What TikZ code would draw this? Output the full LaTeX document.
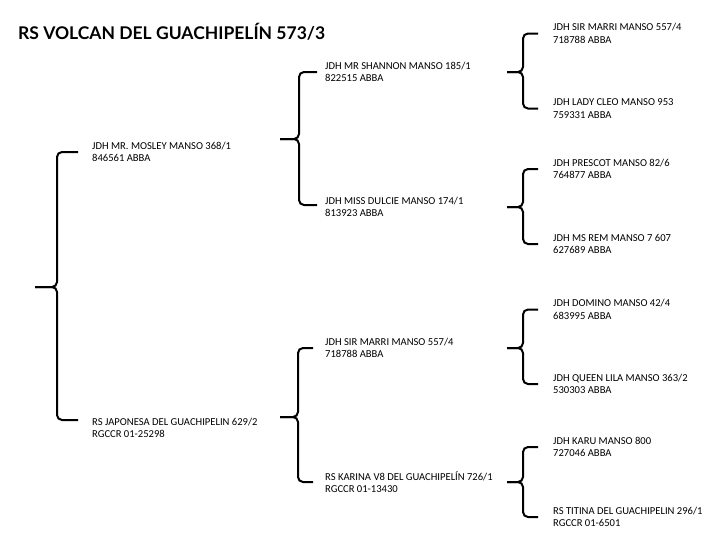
\documentclass[tikz,border=0pt]{standalone}
\usepackage{fontspec}
\setmainfont{Carlito}
\newfontfamily\titulofont{Lato}
\usepackage{tikz}
\usetikzlibrary{positioning}

\tikzset{
  caballo/.style={anchor=west, inner sep=0pt, align=left, font=\fontsize{10.6}{12.5}\selectfont},
  llave/.style={line width=2pt, rounded corners=5pt}
}

\begin{document}
\begin{tikzpicture}[x=1pt, y=-1pt]
    \useasboundingbox (0,0) rectangle (720,554);
    \fill[white] (0,0) rectangle (720,554);
    % Titulo
    \node[anchor=base west, inner sep=0pt, font=\titulofont\bfseries\fontsize{17.5}{20}\selectfont] (titulo) at (18,39.5) {RS VOLCAN DEL GUACHIPELÍN 573/3};
    % Padres
    \node[caballo] (p) at (92,152) {JDH MR. MOSLEY MANSO 368/1\\846561 ABBA};
    \node[caballo] (m) at (92,428) {RS JAPONESA DEL GUACHIPELIN 629/2\\RGCCR 01-25298};
    % Abuelos
    \node[caballo] (pp) at (325,72) {JDH MR SHANNON MANSO 185/1\\822515 ABBA};
    \node[caballo] (pm) at (325,207) {JDH MISS DULCIE MANSO 174/1\\813923 ABBA};
    \node[caballo] (mp) at (325,348) {JDH SIR MARRI MANSO 557/4\\718788 ABBA};
    \node[caballo] (mm) at (325,482) {RS KARINA V8 DEL GUACHIPELÍN 726/1\\RGCCR 01-13430};
    % Bisabuelos
    \node[caballo] (ppp) at (553,33.5) {JDH SIR MARRI MANSO 557/4\\718788 ABBA};
    \node[caballo] (ppm) at (553,108.5) {JDH LADY CLEO MANSO 953\\759331 ABBA};
    \node[caballo] (pmp) at (553,169) {JDH PRESCOT MANSO 82/6\\764877 ABBA};
    \node[caballo] (pmm) at (553,244) {JDH MS REM MANSO 7 607\\627689 ABBA};
    \node[caballo] (mpp) at (553,309.5) {JDH DOMINO MANSO 42/4\\683995 ABBA};
    \node[caballo] (mpm) at (553,384) {JDH QUEEN LILA MANSO 363/2\\530303 ABBA};
    \node[caballo] (mmp) at (553,447) {JDH KARU MANSO 800\\727046 ABBA};
    \node[caballo] (mmm) at (553,517) {RS TITINA DEL GUACHIPELIN 296/1\\RGCCR 01-6501};
    % Puntas de las llaves
    \coordinate (s0) at (35,287);
    \coordinate (s1) at (280,139);
    \coordinate (s2) at (280,417);
    \coordinate (s3) at (507,72);
    \coordinate (s4) at (507,207);
    \coordinate (s5) at (507,348);
    \coordinate (s6) at (507,482);
    % Llaves
    \draw[llave] ([xshift=-14pt]p.west) -| ([xshift=22pt]s0) -- (s0);
    \draw[llave] ([xshift=-14pt,yshift=8pt]m.west) -| ([xshift=22pt]s0) -- (s0);
    \draw[llave] ([xshift=-8pt]pp.west) -| ([xshift=19pt]s1) -- (s1);
    \draw[llave] ([xshift=-8pt,yshift=2pt]pm.west) -| ([xshift=19pt]s1) -- (s1);
    \draw[llave] ([xshift=-12pt]mp.west) -| ([xshift=18pt]s2) -- (s2);
    \draw[llave] ([xshift=-12pt]mm.west) -| ([xshift=18pt]s2) -- (s2);
    \foreach \s/\a/\b in {s3/ppp/ppm, s4/pmp/pmm, s5/mpp/mpm, s6/mmp/mmm} {
      \draw[llave] ([xshift=-15pt]\a.west) -| ([xshift=16pt]\s) -- (\s);
      \draw[llave] ([xshift=-15pt]\b.west) -| ([xshift=16pt]\s) -- (\s);
    }
\end{tikzpicture}
\end{document}
